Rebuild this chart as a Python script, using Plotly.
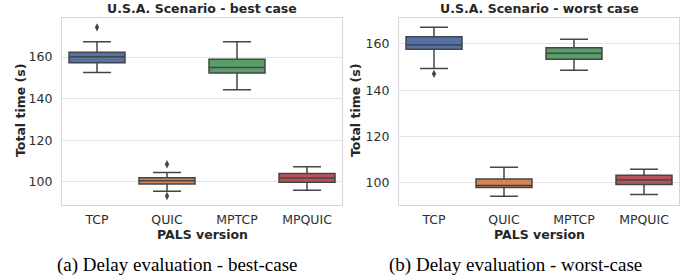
import plotly.graph_objects as go

categories = ["TCP", "QUIC", "MPTCP", "MPQUIC"]
colors = ["#5572a6", "#d0855a", "#5a9e69", "#b9525a"]

# best case (left)
best_q1 = [157.3, 98.9, 152.3, 99.7]
best_median = [160.2, 100.5, 155.0, 101.8]
best_q3 = [162.3, 101.9, 158.9, 104.0]
best_lo = [152.6, 95.4, 144.3, 95.9]
best_hi = [167.4, 104.5, 167.4, 107.2]
best_out_cat = ["TCP", "QUIC", "QUIC"]
best_out_val = [174.3, 108.4, 93.1]

# worst case (right)
worst_q1 = [157.7, 98.0, 153.4, 99.4]
worst_median = [159.6, 98.9, 156.0, 101.3]
worst_q3 = [163.1, 101.7, 158.4, 103.3]
worst_lo = [149.4, 94.3, 148.7, 95.0]
worst_hi = [167.2, 106.8, 162.0, 105.9]
worst_out_cat = ["TCP"]
worst_out_val = [147.1]

titles = ["U.S.A. Scenario - best case", "U.S.A. Scenario - worst case"]
captions = ["(a) Delay evaluation - best-case", "(b) Delay evaluation - worst-case"]
yticks = [100, 120, 140, 160]

W, H = 685, 279
fig = go.Figure()

panels = [
    (best_q1, best_median, best_q3, best_lo, best_hi, best_out_cat, best_out_val, "x", "y"),
    (worst_q1, worst_median, worst_q3, worst_lo, worst_hi, worst_out_cat, worst_out_val, "x2", "y2"),
]
for (q1, med, q3, lo, hi, oc, ov, xa, ya) in panels:
    for i, c in enumerate(categories):
        fig.add_trace(go.Box(
            x=[c], q1=[q1[i]], median=[med[i]], q3=[q3[i]],
            lowerfence=[lo[i]], upperfence=[hi[i]],
            width=0.8, whiskerwidth=0.5,
            fillcolor=colors[i], line=dict(color="#454545", width=1.5),
            boxpoints=False, showlegend=False, xaxis=xa, yaxis=ya,
        ))
    fig.add_trace(go.Scatter(
        x=oc, y=ov, mode="markers",
        marker=dict(symbol="diamond-tall", size=6, color="#454545"),
        showlegend=False, xaxis=xa, yaxis=ya,
    ))

top = 1 - 18 / H
bot = 1 - 205 / H
xd1 = [62 / W, 342 / W]
xd2 = [399 / W, 679 / W]

SANS = "DejaVu Sans, Arial"
axis_common = dict(showline=True, mirror=True, linecolor="#d6d6d6", linewidth=1.2,
                   tickfont=dict(family=SANS, size=12.5, color="#2e2e2e"),
                   zeroline=False)
fig.update_layout(
    width=W, height=H, margin=dict(l=0, r=0, t=0, b=0),
    paper_bgcolor="white", plot_bgcolor="white",
    xaxis=dict(domain=xd1, anchor="y", type="category", categoryorder="array",
               categoryarray=categories, range=[-0.5, 3.5], showgrid=False,
               ticks="outside", ticklen=3, tickcolor="rgba(0,0,0,0)", **axis_common),
    yaxis=dict(domain=[bot, top], anchor="x", range=[88.8, 178.8], tickvals=yticks,
               showgrid=True, gridcolor="#e3e3e3", gridwidth=1.2,
               ticks="outside", ticklen=6, tickcolor="rgba(0,0,0,0)", **axis_common),
    xaxis2=dict(domain=xd2, anchor="y2", type="category", categoryorder="array",
                categoryarray=categories, range=[-0.5, 3.5], showgrid=False,
                ticks="outside", ticklen=3, tickcolor="rgba(0,0,0,0)", **axis_common),
    yaxis2=dict(domain=[bot, top], anchor="x2", range=[90.5, 171.2], tickvals=yticks,
                showgrid=True, gridcolor="#e3e3e3", gridwidth=1.2,
                ticks="outside", ticklen=6, tickcolor="rgba(0,0,0,0)", **axis_common),
)

ann = []
for k, (xd, cx_ytitle) in enumerate([(xd1, 20), (xd2, 355)]):
    cx = (xd[0] + xd[1]) / 2
    ann.append(dict(text="<b>" + titles[k] + "</b>", x=cx, y=1 - 8 / H, xref="paper", yref="paper",
                    showarrow=False, xanchor="center", yanchor="middle",
                    font=dict(family=SANS, size=12.5, color="#262626")))
    ann.append(dict(text="<b>PALS version</b>", x=cx, y=1 - 234 / H, xref="paper", yref="paper",
                    showarrow=False, xanchor="center", yanchor="middle",
                    font=dict(family=SANS, size=12.5, color="#262626")))
    ann.append(dict(text="<b>Total time (s)</b>", x=cx_ytitle / W, y=1 - 111 / H, xref="paper",
                    yref="paper", showarrow=False, xanchor="center", yanchor="middle",
                    textangle=-90, font=dict(family=SANS, size=12.5, color="#262626")))
    ann.append(dict(text=captions[k], x=[177, 515][k] / W, y=1 - 265 / H, xref="paper", yref="paper",
                    showarrow=False, xanchor="center", yanchor="middle",
                    font=dict(family="Liberation Serif, Times New Roman", size=19, color="black")))
fig.update_layout(annotations=ann)

fig.write_html("out.html", config={"displayModeBar": False},
               post_script="document.body.style.margin='0px';")
